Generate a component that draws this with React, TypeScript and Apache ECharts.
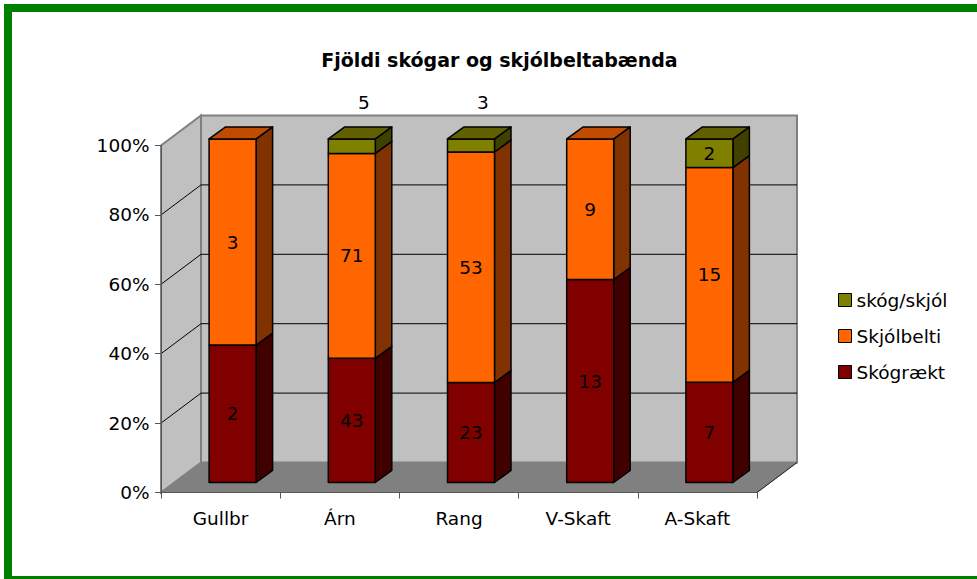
import React, { useEffect, useRef } from "react";
import * as echarts from "echarts";

const categories = ["Gullbr", "Árn", "Rang", "V-Skaft", "A-Skaft"];
const skograekt = [2, 43, 23, 13, 7];
const skjolbelti = [3, 71, 53, 9, 15];
const skogSkjol = [0, 5, 3, 0, 2];
const seriesNames = ["Skógrækt", "Skjólbelti", "skóg/skjól"];
const yTicks = [0, 20, 40, 60, 80, 100];
const titleText = "Fjöldi skógar og skjólbeltabænda";

const FONT = "DejaVu Sans";
const FRONT = ["#800000", "#FF6600", "#808000"];
const SIDE = ["#400000", "#803300", "#404000"];
const TOP = ["#600000", "#BF4C00", "#606000"];

const BAR_W = 47;
const OFF_X = 12;
const OFF_Y = 10;
const DX = 16.5;
const DY = 12;
const WDX = 40;
const WDY = 30;
const SCALE = 0.99;

function buildSeriesData() {
  const groups = [skograekt, skjolbelti, skogSkjol];
  const out: number[][][] = [[], [], []];
  categories.forEach((_, i) => {
    const total = groups.reduce((s, g) => s + g[i], 0);
    let topIdx = -1;
    groups.forEach((g, k) => {
      if (g[i] > 0) topIdx = k;
    });
    let acc = 0;
    groups.forEach((g, k) => {
      const pct = (g[i] / total) * 100;
      out[k].push([i, acc, acc + pct, g[i], k === topIdx ? 1 : 0]);
      acc += pct;
    });
  });
  return out;
}

export default function App() {
  const ref = useRef<HTMLDivElement>(null);
  useEffect(() => {
    if (!ref.current) return;
    const chart = echarts.init(ref.current, undefined, { renderer: "svg" });
    const data = buildSeriesData();

    const barSeries = seriesNames.map((name, k) => ({
      name,
      type: "custom",
      z: 3,
      itemStyle: { color: FRONT[k], borderColor: "#000", borderWidth: 1 },
      data: data[k],
      renderItem: (params: any, api: any) => {
        const raw = api.value(3);
        if (!raw) return null;
        const cs = params.coordSys;
        const B = cs.y + cs.height;
        const cat = api.value(0);
        const s = api.value(1);
        const e = api.value(2);
        const isTop = api.value(4);
        const pS = api.coord([cat, s]);
        const pE = api.coord([cat, e]);
        const p100 = api.coord([cat, 100]);
        const fy = (y: number) => B - OFF_Y - (B - y) * SCALE;
        const yS = fy(pS[1]);
        const yE = fy(pE[1]);
        const cx = pS[0] + OFF_X;
        const xl = cx - BAR_W / 2;
        const xr = cx + BAR_W / 2;
        const line = { stroke: "#000", lineWidth: 1.5, lineJoin: "round" };
        const children: any[] = [
          {
            type: "polygon",
            shape: { points: [[xr, yS], [xr, yE], [xr + DX, yE - DY], [xr + DX, yS - DY]] },
            style: { fill: SIDE[k], ...line },
          },
          {
            type: "rect",
            shape: { x: xl, y: yE, width: BAR_W, height: yS - yE },
            style: { fill: FRONT[k], ...line },
          },
        ];
        if (isTop) {
          children.push({
            type: "polygon",
            shape: { points: [[xl, yE], [xr, yE], [xr + DX, yE - DY], [xl + DX, yE - DY]] },
            style: { fill: TOP[k], ...line },
          });
        }
        const inside = e - s >= 6;
        children.push({
          type: "text",
          style: {
            text: String(raw),
            x: inside ? cx : cx + 12,
            y: inside ? (yS + yE) / 2 : fy(p100[1]) - 36,
            align: "center",
            verticalAlign: "middle",
            fontSize: 18.5,
            fontFamily: FONT,
            fill: "#000",
          },
        });
        return { type: "group", children };
      },
    }));

    const wallSeries = {
      name: "walls",
      type: "custom",
      silent: true,
      z: 1,
      data: [[0, 0]],
      renderItem: (params: any, api: any) => {
        const cs = params.coordSys;
        const L = cs.x;
        const T = cs.y;
        const R = cs.x + cs.width;
        const B = cs.y + cs.height;
        const children: any[] = [
          {
            type: "rect",
            shape: { x: L + WDX, y: T - WDY, width: R - L, height: B - T },
            style: { fill: "#C0C0C0", stroke: "#808080", lineWidth: 2 },
          },
          {
            type: "polygon",
            shape: { points: [[L, B], [L, T], [L + WDX, T - WDY], [L + WDX, B - WDY]] },
            style: { fill: "#C0C0C0", stroke: "#808080", lineWidth: 2 },
          },
          {
            type: "polygon",
            shape: { points: [[L, B], [R, B], [R + WDX, B - WDY], [L + WDX, B - WDY]] },
            style: { fill: "#808080", stroke: "#808080", lineWidth: 1 },
          },
          {
            type: "line",
            shape: { x1: R, y1: B, x2: R + WDX, y2: B - WDY },
            style: { stroke: "#222", lineWidth: 1 },
          },
        ];
        yTicks
          .filter((v) => v > 0 && v < 100)
          .forEach((v) => {
            const y = api.coord([0, v])[1];
            children.push({
              type: "line",
              shape: { x1: L, y1: y, x2: L + WDX, y2: y - WDY },
              style: { stroke: "#000", lineWidth: 1 },
            });
            children.push({
              type: "line",
              shape: { x1: L + WDX, y1: y - WDY, x2: R + WDX, y2: y - WDY },
              style: { stroke: "#000", lineWidth: 1 },
            });
          });
        return { type: "group", children };
      },
    };

    const green = { fill: "#008000" };
    chart.setOption({
      animation: false,
      backgroundColor: "#fff",
      grid: { left: 161, top: 145.5, width: 596, height: 347 },
      xAxis: {
        type: "category",
        data: categories,
        z: 10,
        axisLine: { show: true, lineStyle: { color: "#555", width: 1 } },
        axisTick: { show: true, length: 6, lineStyle: { color: "#555" } },
        axisLabel: { margin: 16, fontSize: 18.5, fontFamily: FONT, color: "#000" },
        splitLine: { show: false },
      },
      yAxis: {
        type: "value",
        min: 0,
        max: 100,
        interval: 20,
        z: 10,
        axisLine: { show: true, lineStyle: { color: "#555", width: 1 } },
        axisTick: { show: true, length: 6, lineStyle: { color: "#555" } },
        axisLabel: {
          margin: 11.5,
          fontSize: 18.5,
          fontFamily: FONT,
          color: "#000",
          formatter: "{value}%",
        },
        splitLine: { show: false },
      },
      legend: {
        orient: "vertical",
        left: 833,
        top: 285,
        itemWidth: 13,
        itemHeight: 13,
        itemGap: 16,
        icon: "rect",
        textStyle: { fontSize: 18.5, fontFamily: FONT, color: "#000", lineHeight: 20 },
        data: [
          { name: "skóg/skjól", itemStyle: { color: FRONT[2], borderColor: "#000", borderWidth: 1 } },
          { name: "Skjólbelti", itemStyle: { color: FRONT[1], borderColor: "#000", borderWidth: 1 } },
          { name: "Skógrækt", itemStyle: { color: FRONT[0], borderColor: "#000", borderWidth: 1 } },
        ],
      },
      graphic: [
        { type: "rect", silent: true, z: 100, shape: { x: 4, y: 4, width: 8, height: 575 }, style: green },
        { type: "rect", silent: true, z: 100, shape: { x: 4, y: 4, width: 973, height: 8 }, style: green },
        { type: "rect", silent: true, z: 100, shape: { x: 4, y: 576, width: 973, height: 3 }, style: green },
        {
          type: "text",
          x: 499.5,
          y: 60.3,
          style: {
            text: titleText,
            fontSize: 19,
            fontWeight: "bold",
            fontFamily: FONT,
            fill: "#000",
            align: "center",
            verticalAlign: "middle",
          },
        },
      ],
      series: [wallSeries, ...barSeries],
    });
    return () => chart.dispose();
  }, []);
  return (
    <div
      ref={ref}
      style={{ position: "absolute", left: 0, top: 0, width: 977, height: 579 }}
    />
  );
}
